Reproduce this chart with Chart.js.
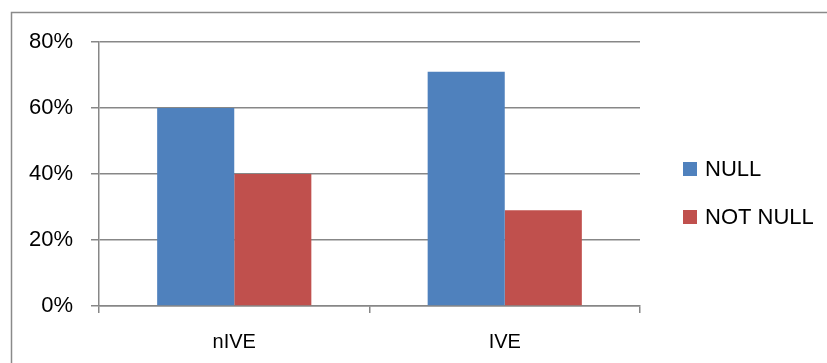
<!DOCTYPE html>
<html>
<head>
<meta charset="utf-8">
<script src="https://cdn.jsdelivr.net/npm/chart.js@4/dist/chart.umd.min.js"></script>
<style>
  html, body { margin: 0; padding: 0; background: #ffffff; }
  #wrap { position: relative; width: 827px; height: 363px; }
</style>
</head>
<body>
<div id="wrap"><canvas id="chart" width="827" height="363"></canvas></div>
<script>
// Share of NULL / NOT NULL results per group
const categories = ['nIVE', 'IVE'];
const seriesNames = ['NULL', 'NOT NULL'];
const nullValues = [60, 71];
const notNullValues = [40, 29];
const yTicks = [0, 20, 40, 60, 80];

const BLUE = '#4F81BD';
const RED = '#C0504D';
const GRID = '#878787';
const FONT = '"Liberation Sans", Arial, sans-serif';

// Outer frame of the chart object
const framePlugin = {
  id: 'frame',
  beforeDraw(chart) {
    const ctx = chart.ctx;
    ctx.save();
    ctx.strokeStyle = '#8a8a8a';
    ctx.lineWidth = 1.5;
    ctx.beginPath();
    ctx.moveTo(11.5, chart.height + 2);
    ctx.lineTo(11.5, 12.5);
    ctx.lineTo(chart.width + 2, 12.5);
    ctx.stroke();
    ctx.restore();
  }
};

// Legend drawn beside the plot from the dataset labels and colours
const sideLegend = {
  id: 'sideLegend',
  afterDraw(chart) {
    const ctx = chart.ctx;
    const x0 = chart.chartArea.right + 43;
    const yCenter = 193;
    const step = 48;
    const n = chart.data.datasets.length;
    ctx.save();
    ctx.font = '22px ' + FONT;
    ctx.textBaseline = 'middle';
    ctx.textAlign = 'left';
    chart.data.datasets.forEach((ds, i) => {
      const y = yCenter + (i - (n - 1) / 2) * step;
      ctx.fillStyle = ds.backgroundColor;
      ctx.fillRect(x0, y - 7, 14, 14);
      ctx.fillStyle = '#000000';
      ctx.fillText(ds.label, x0 + 22, y + 1);
    });
    ctx.restore();
  }
};

new Chart(document.getElementById('chart'), {
  type: 'bar',
  data: {
    labels: categories,
    datasets: [
      { label: seriesNames[0], data: nullValues, backgroundColor: BLUE, borderWidth: 0 },
      { label: seriesNames[1], data: notNullValues, backgroundColor: RED, borderWidth: 0 }
    ]
  },
  options: {
    responsive: false,
    animation: false,
    devicePixelRatio: 1,
    layout: { padding: { top: 42, right: 187, bottom: 0, left: 0 } },
    plugins: {
      legend: { display: false },
      tooltip: { enabled: false }
    },
    datasets: {
      bar: { categoryPercentage: 0.57, barPercentage: 1.0 }
    },
    scales: {
      x: {
        offset: true,
        grid: {
          offset: true,
          drawOnChartArea: false,
          drawTicks: true,
          tickLength: 7,
          color: GRID,
          lineWidth: 1.5
        },
        border: { display: true, color: GRID, width: 1.5 },
        ticks: {
          color: '#000000',
          font: { family: FONT, size: 20 },
          padding: 17
        },
        afterFit(scale) { scale.height = 57; }
      },
      y: {
        min: 0,
        max: 80,
        afterBuildTicks(scale) { scale.ticks = yTicks.map(v => ({ value: v })); },
        grid: {
          drawTicks: true,
          tickLength: 8,
          color: GRID,
          lineWidth: 1.5
        },
        border: { display: true, color: GRID, width: 1.5 },
        ticks: {
          color: '#000000',
          font: { family: FONT, size: 22 },
          padding: 18,
          callback: v => v + '%'
        },
        afterFit(scale) { scale.width = 99; }
      }
    }
  },
  plugins: [framePlugin, sideLegend]
});
</script>
</body>
</html>
